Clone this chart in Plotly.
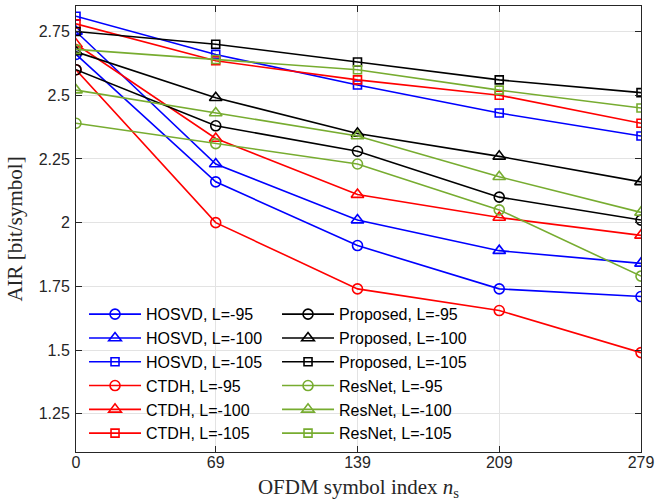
import plotly.graph_objects as go

x_vals = [0, 69, 139, 209, 279]
x_ticks = ["0", "69", "139", "209", "279"]
y_ticks = [1.25, 1.5, 1.75, 2, 2.25, 2.5, 2.75]
y_tick_labels = ["1.25", "1.5", "1.75", "2", "2.25", "2.5", "2.75"]

hosvd_95 = [2.66, 2.16, 1.91, 1.74, 1.71]
hosvd_100 = [2.75, 2.23, 2.01, 1.89, 1.84]
hosvd_105 = [2.81, 2.66, 2.54, 2.43, 2.34]
ctdh_95 = [2.60, 2.00, 1.74, 1.655, 1.49]
ctdh_100 = [2.70, 2.33, 2.11, 2.02, 1.95]
ctdh_105 = [2.78, 2.635, 2.56, 2.50, 2.39]
prop_95 = [2.60, 2.38, 2.28, 2.10, 2.01]
prop_100 = [2.67, 2.49, 2.35, 2.26, 2.16]
prop_105 = [2.75, 2.70, 2.63, 2.56, 2.51]
resnet_95 = [2.39, 2.31, 2.23, 2.05, 1.79]
resnet_100 = [2.52, 2.43, 2.34, 2.18, 2.04]
resnet_105 = [2.68, 2.64, 2.60, 2.52, 2.45]

BLUE = "#0000ff"
RED = "#ff0000"
BLACK = "#000000"
GREEN = "#77ac30"

symbols = {"-95": ("circle-open", 10), "-100": ("triangle-up-open", 11), "-105": ("square-open", 8)}

series = [
    ("HOSVD", "-95", hosvd_95, BLUE, 1),
    ("HOSVD", "-100", hosvd_100, BLUE, 3),
    ("HOSVD", "-105", hosvd_105, BLUE, 5),
    ("CTDH", "-95", ctdh_95, RED, 7),
    ("CTDH", "-100", ctdh_100, RED, 9),
    ("CTDH", "-105", ctdh_105, RED, 11),
    ("Proposed", "-95", prop_95, BLACK, 2),
    ("Proposed", "-100", prop_100, BLACK, 4),
    ("Proposed", "-105", prop_105, BLACK, 6),
    ("ResNet", "-95", resnet_95, GREEN, 8),
    ("ResNet", "-100", resnet_100, GREEN, 10),
    ("ResNet", "-105", resnet_105, GREEN, 12),
]

fig = go.Figure()
for method, L, vals, color, rank in series:
    sym, size = symbols[L]
    fig.add_trace(go.Scatter(
        x=x_vals, y=vals, mode="lines+markers",
        name=f"{method}, L={L}",
        line=dict(color=color, width=1.6),
        marker=dict(symbol=sym, size=size, color=color, line=dict(color=color, width=1.6)),
        legendrank=rank,
    ))

axis_common = dict(
    showline=True, linecolor="#262626", linewidth=1, mirror="allticks",
    ticks="inside", ticklen=6, tickcolor="#262626", tickwidth=1,
    showgrid=True, gridcolor="#e3e3e3", gridwidth=1, zeroline=False,
    automargin=False,
    tickfont=dict(family="Liberation Sans, Arial", size=16, color="#262626"),
)

fig.update_layout(
    width=655, height=501,
    margin=dict(l=76, r=14, t=6, b=49),
    paper_bgcolor="white", plot_bgcolor="white",
    showlegend=True,
    legend=dict(
        orientation="h", x=0.0142, y=0.347, xanchor="left", yanchor="top",
        bgcolor="rgba(0,0,0,0)", borderwidth=0,
        font=dict(family="Liberation Sans, Arial", size=16, color="#000000"),
        itemwidth=52, entrywidth=126, traceorder="normal",
    ),
    xaxis=dict(
        range=[0, 279], tickvals=x_vals, ticktext=x_ticks,
        ticklabelstandoff=-4,
        title=dict(text="OFDM symbol index <i>n</i><sub>s</sub>",
                   font=dict(family="Liberation Serif, Times New Roman", size=21, color="#262626"),
                   standoff=13),
        **axis_common,
    ),
    yaxis=dict(
        range=[1.1, 2.85], tickvals=y_ticks, ticktext=y_tick_labels,
        ticklabelstandoff=2,
        title=dict(text="AIR [bit/symbol]",
                   font=dict(family="Liberation Serif, Times New Roman", size=21, color="#262626"),
                   standoff=10),
        **axis_common,
    ),
)

fig.write_html("out.html")
